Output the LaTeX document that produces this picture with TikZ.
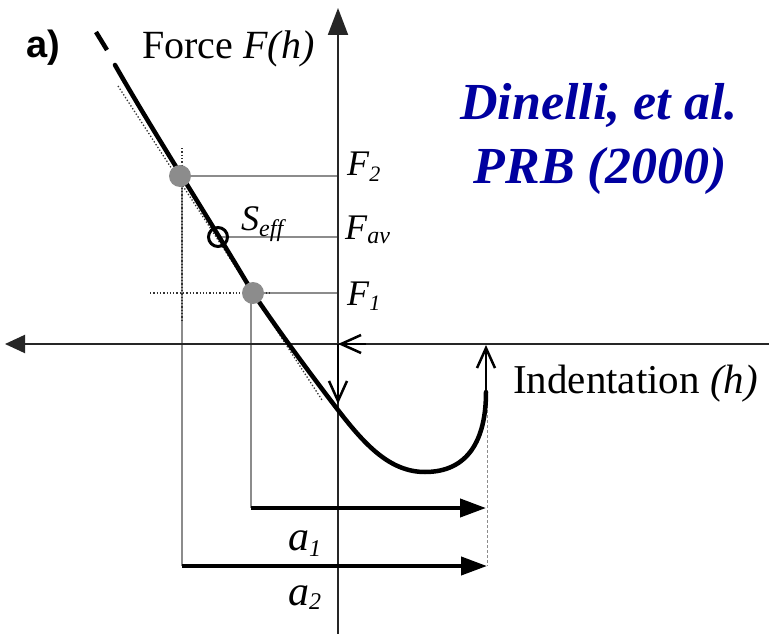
\documentclass[tikz,border=0pt]{standalone}
\usepackage{fontspec}
\setmainfont{Liberation Serif}
\newfontfamily\labelsans{Liberation Sans}
\usetikzlibrary{arrows.meta}
\definecolor{refblue}{RGB}{0,0,160}
\definecolor{guide}{RGB}{140,140,140}
\newcommand\lowsub[3]{\raisebox{-#2pt}{\fontsize{#3}{#3}\selectfont\itshape #1}}
\begin{document}
\begin{tikzpicture}[x=1pt,y=-1pt,
  txt/.style={inner sep=0pt, anchor=base west},
  guideline/.style={draw=guide, line width=1.6pt},
  dotline/.style={draw=black!80, line width=1.3pt, dotted},
  curve/.style={line width=4.5pt, line cap=round, line join=round},
  axisline/.style={line width=2pt, draw=black!85},
  dim/.style={line width=4pt, -{Triangle[length=26pt,width=18pt]}},
  barb/.style={line width=2.5pt, -{Straight Barb[length=20pt,width=18pt]}},
  gdot/.style={circle, fill=guide, minimum size=22pt, inner sep=0pt},
]
\useasboundingbox (0,0) rectangle (769,634);
\fill[white] (0,0) rectangle (769,634);
% coordinates
\coordinate (ytop) at (338,8);
\coordinate (ybot) at (338,640);
\coordinate (xleft) at (5,344);
\coordinate (xright) at (775,344);
\coordinate (O) at (338,344);
\coordinate (F2ax) at (338,176);
\coordinate (Favax) at (338,237);
\coordinate (F1ax) at (338,293);
\coordinate (a1s) at (251,508);
\coordinate (a1e) at (486,508);
\coordinate (a2s) at (182,566);
\coordinate (a2e) at (487,566);
\coordinate (upS) at (486,392);
\coordinate (upE) at (486,345);
\coordinate (downE) at (338,404);
\coordinate (leftS) at (366,344);
% guide lines
\draw[guideline] (180,176) -- (F2ax);
\draw[guideline] (218,237) -- (Favax);
\draw[guideline] (253,293) -- (F1ax);
\draw[guideline] (182,176) -- (a2s);
\draw[guideline] (251,293) -- (a1s);
\draw[draw=guide, densely dashed, line width=1pt] (487,395) -- (a2e);
% dotted lines
\draw[dotline] (182,148) -- (182,320);
\draw[dotline] (150,293) -- (272,293);
\draw[dotline] (118,86) -- (322,400);
% axes
\draw[axisline, -{Triangle[length=27pt,width=20pt]}] (ybot) -- (ytop);
\draw[axisline, -{Triangle[length=20pt,width=18pt]}] (xright) -- (xleft);
% curve
\draw[line width=4.5pt] (96,32) -- (107,50);
\draw[curve] (115,65) .. controls (152,130) and (205,212) .. (253,293)
  .. controls (282,336) and (318,384) .. (338,410)
  .. controls (365,445) and (390,472) .. (425,472)
  .. controls (468,472) and (486,440) .. (486,392);
\draw[barb] (upS) -- (upE);
\draw[barb] (O) -- (downE);
\draw[barb] (leftS) -- (O);
% points
\node[gdot] (P2) at (180,176) {};
\node[gdot] (P1) at (253,293) {};
\node[circle, draw, line width=3pt, minimum size=19pt, inner sep=0pt] (Pav) at (218,237) {};
% dimension arrows
\draw[dim] (a1s) -- (a1e);
\draw[dim] (a2s) -- (a2e);
% labels
\node[txt] (alabel) at (26,58) {\labelsans\bfseries\fontsize{38}{38}\selectfont a)};
\node[txt] (forcelabel) at (142,59) {\fontsize{40}{40}\selectfont Force \textit{F(h)}};
\node[txt] (f2label) at (347,175) {\fontsize{36}{36}\selectfont\textit{F}\lowsub{2}{6}{22}};
\node[txt] (favlabel) at (345,239) {\fontsize{36}{36}\selectfont\textit{F}\lowsub{av}{4}{24}};
\node[txt] (f1label) at (347,305) {\fontsize{36}{36}\selectfont\textit{F}\lowsub{1}{5}{22}};
\node[txt] (seff) at (241,230) {\fontsize{36}{36}\selectfont\textit{S}\lowsub{eff}{6}{24}};
\node[txt] (indent) at (513,393) {\fontsize{41}{41}\selectfont Indentation \textit{(h)}};
\node[txt] (a1label) at (288,550) {\fontsize{42}{42}\selectfont\textit{a}\lowsub{1}{6}{24}};
\node[txt] (a2label) at (288,605) {\fontsize{42}{42}\selectfont\textit{a}\lowsub{2}{4}{24}};
\node[inner sep=0pt, anchor=base, text=refblue, font=\fontsize{52}{52}\selectfont\bfseries\itshape] (ref1) at (599,120) {Dinelli, et al.};
\node[inner sep=0pt, anchor=base, text=refblue, font=\fontsize{52}{52}\selectfont\bfseries\itshape] (ref2) at (600,183) {PRB (2000)};
\end{tikzpicture}
\end{document}
